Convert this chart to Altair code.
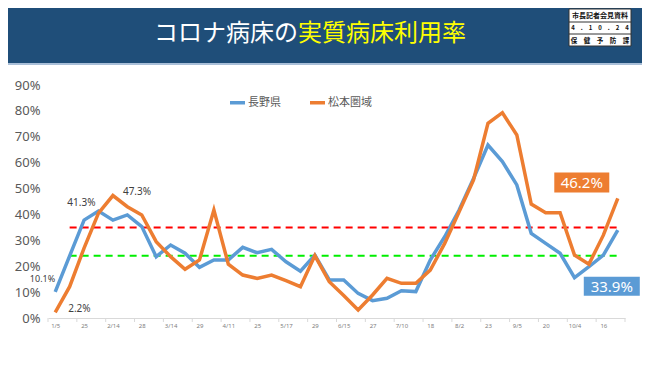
import altair as alt
import pandas as pd

# ---- data ----
tick_labels = ["1/5", "25", "2/14", "28", "3/14", "29", "4/11", "25", "5/17", "29",
               "6/15", "27", "7/10", "18", "8/2", "23", "9/5", "20", "10/4", "16"]
series_names = ["長野県", "松本圏域"]
nagano = [10.1, 24.0, 37.8, 41.3, 37.8, 39.8, 35.3, 23.7, 28.2, 25.0,
          19.6, 22.4, 22.4, 27.3, 25.2, 26.5, 21.7, 18.1, 24.3, 14.7,
          14.7, 9.5, 6.7, 7.6, 10.5, 10.2, 22.4, 31.4, 41.7, 53.9,
          66.8, 60.4, 51.4, 32.7, 28.8, 25.0, 15.6, 19.8, 24.3, 33.9]
matsumoto = [2.2, 12.1, 27.0, 40.5, 47.3, 43.0, 39.8, 29.5, 23.7, 18.8,
             22.4, 41.7, 20.8, 16.6, 15.3, 16.6, 14.4, 12.1, 24.1, 14.0,
             8.7, 3.1, 8.9, 15.3, 13.4, 13.4, 18.5, 28.8, 41.0, 53.3,
             75.2, 79.3, 70.7, 44.0, 40.7, 40.7, 24.3, 20.8, 32.0, 46.2]
thresholds = [35.0, 24.0]
threshold_colors = ["#ff0000", "#00ee00"]
title_white = "コロナ病床の"
title_yellow = "実質病床利用率"
header_rows = ["市長記者会見資料", "4　.　1　0　.　2　4", "保　健　予　防　課"]
header_sizes = [7, 6, 6.5]

n = len(nagano)
W, H = 577, 233
PL, PT = 40, 77
SVG_W, SVG_H = 634, 349

df = pd.DataFrame({
    "i": list(range(n)) * 2,
    "series": [series_names[0]] * n + [series_names[1]] * n,
    "v": [x / 100 for x in nagano + matsumoto],
})

x_scale = alt.Scale(domain=[-0.5, n - 0.5], nice=False, zero=False)
y_scale = alt.Scale(domain=[0, 0.9], nice=False)
label_expr = "[" + ",".join(f"'{t}'" for t in tick_labels) + "][datum.value/2]"

x_axis = alt.Axis(values=list(range(0, n, 2)), labelExpr=label_expr, title=None, grid=False,
                  domainColor="#d9d9d9", domainWidth=1, ticks=False, labelFontSize=6,
                  labelColor="#808080", labelPadding=4, labelFont="Noto Sans", labelAngle=0,
                  labelOverlap=False, labelBound=False, labelFlush=False)
y_axis = alt.Axis(values=[round(k / 10, 1) for k in range(10)], format=".0%", title=None,
                  grid=False, domain=False, ticks=False, labelFontSize=13, labelColor="#595959",
                  labelPadding=8, labelFont="Noto Sans", labelOverlap=False, labelFlush=False)


def xenc(field):
    return alt.X(field, scale=x_scale, axis=x_axis)


def yenc(field):
    return alt.Y(field, scale=y_scale, axis=y_axis)


lines = alt.Chart(df).mark_line(strokeWidth=3.5).encode(
    x=xenc("i:Q"), y=yenc("v:Q"),
    color=alt.Color("series:N",
                    scale=alt.Scale(domain=series_names, range=["#5b9bd5", "#ed7d31"]),
                    legend=alt.Legend(orient="none", legendX=180, legendY=8, direction="horizontal",
                                      title=None, symbolType="stroke", symbolStrokeWidth=3.5,
                                      symbolSize=225, labelFontSize=11, labelColor="#595959",
                                      labelFont="Noto Sans CJK JP", columnPadding=22,
                                      labelOffset=1, padding=0)),
)

thr_df = pd.DataFrame({"y": [t / 100 for t in thresholds], "c": threshold_colors,
                       "x1": [1, 1], "x2": [n - 1, n - 1]})
thr = alt.Chart(thr_df).mark_rule(strokeDash=[7, 5], strokeWidth=2).encode(
    x=xenc("x1:Q"), x2="x2:Q", y=yenc("y:Q"), color=alt.Color("c:N", scale=None))

tick_df = pd.DataFrame({"b": [k - 0.5 for k in range(0, n + 1, 2)]})
ticks = alt.Chart(tick_df).mark_rule(color="#d9d9d9", strokeWidth=1).encode(
    x=xenc("b:Q"), y=alt.value(H), y2=alt.value(H + 4))


def label(idx, series_vals, align, dx, dy, size=10):
    d = pd.DataFrame({"i": [idx], "v": [series_vals[idx] / 100],
                      "t": [f"{series_vals[idx]:.1f}%"]})
    return alt.Chart(d).mark_text(align=align, baseline="middle", dx=dx, dy=dy, fontSize=size,
                                  color="#404040", font="Noto Sans").encode(
        x=xenc("i:Q"), y=yenc("v:Q"), text="t:N")


def boxed(idx, series_vals, color, w, h, dx, dy):
    d = pd.DataFrame({"i": [idx], "v": [series_vals[idx] / 100],
                      "t": [f"{series_vals[idx]:.1f}%"]})
    base = alt.Chart(d).encode(x=xenc("i:Q"), y=yenc("v:Q"))
    r = base.mark_rect(width=w, height=h, xOffset=dx, yOffset=dy, color=color)
    t = base.mark_text(align="center", baseline="middle", dx=dx, dy=dy + 1, fontSize=15,
                       color="white", font="Noto Sans").encode(text="t:N")
    return r + t


labels = [
    label(0, nagano, "right", 0, -13, 9),
    label(0, matsumoto, "left", 13, -3),
    label(3, nagano, "right", -3, -8),
    label(4, matsumoto, "left", 10, -4),
    boxed(n - 1, matsumoto, "#ed7d31", 55, 20, -36, -16),
    boxed(n - 1, nagano, "#5b9bd5", 56, 19, -6, 56),
]

one = pd.DataFrame({"a": [1]})
bar = alt.Chart(one).mark_rect(color="#1f4e79").encode(
    x=alt.value(-PL), x2=alt.value(SVG_W - PL), y=alt.value(-PT), y2=alt.value(63 - 8 - PT))
strip = alt.Chart(one).mark_rect(color="#a9bfd8").encode(
    x=alt.value(-PL), x2=alt.value(SVG_W - PL), y=alt.value(63 - 8 - PT), y2=alt.value(65 - 8 - PT))
t1 = alt.Chart(one).mark_text(align="right", baseline="middle", fontSize=24, color="white",
                              font="Noto Sans CJK JP", text=title_white).encode(
    x=alt.value(298 - 8 - PL), y=alt.value(34 - 8 - PT))
t2 = alt.Chart(one).mark_text(align="left", baseline="middle", fontSize=24, color="#ffff00",
                              font="Noto Sans CJK JP", text=title_yellow).encode(
    x=alt.value(298 - 8 - PL), y=alt.value(34 - 8 - PT))

bx0, bx1 = 569 - 8 - PL, 631 - 8 - PL
by = [9 - 8 - PT, 22 - 8 - PT, 34 - 8 - PT, 46 - 8 - PT]
hbox = alt.Chart(one).mark_rect(color="white", stroke="#333333", strokeWidth=1).encode(
    x=alt.value(bx0), x2=alt.value(bx1), y=alt.value(by[0]), y2=alt.value(by[3]))
divs = [alt.Chart(one).mark_rule(color="#333333", strokeWidth=1).encode(
    x=alt.value(bx0), x2=alt.value(bx1), y=alt.value(by[k])) for k in (1, 2)]
row_y = [15.7, 28.3, 40.7]
hdr = [alt.Chart(one).mark_text(align="center", baseline="middle", fontSize=header_sizes[k],
                                color="#111111", fontWeight="bold", font="Noto Sans CJK JP",
                                text=header_rows[k]).encode(
    x=alt.value((bx0 + bx1) / 2), y=alt.value(row_y[k] - 8 - PT)) for k in range(3)]

chart = alt.layer(bar, strip, t1, t2, hbox, *divs, *hdr, thr, ticks, lines, *labels).properties(
    width=W, height=H,
    autosize=alt.AutoSizeParams(type="none"),
    padding={"left": PL, "top": PT, "right": SVG_W - PL - W, "bottom": SVG_H - PT - H},
    background="white",
).configure_view(stroke=None).configure_axis(labelOverlap=False)

chart.save("out.html", embed_options={"renderer": "svg", "actions": False})
